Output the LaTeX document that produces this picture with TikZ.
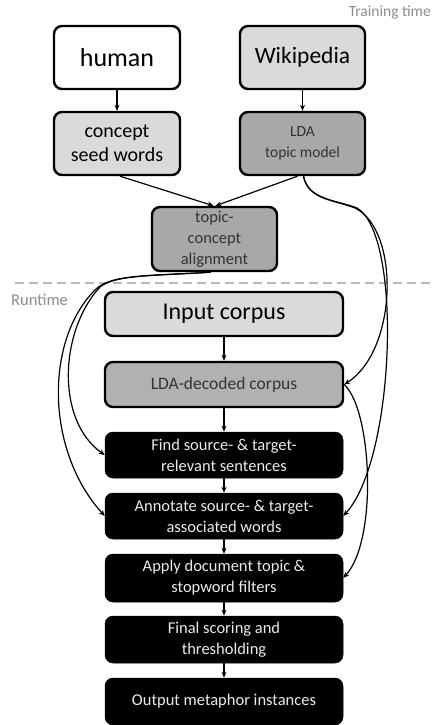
\documentclass[tikz,border=0pt]{standalone}
\usepackage{fontspec}
\setmainfont{Carlito}
\usetikzlibrary{arrows.meta}
\definecolor{lgray}{HTML}{DADADA}
\definecolor{mgray}{HTML}{A8A8A8}
\definecolor{dgtext}{HTML}{333333}
\definecolor{labgray}{HTML}{8C8C8C}
\begin{document}
\begin{tikzpicture}[x=1pt,y=-1pt,
  box/.style={draw=black, line width=2.4pt, rounded corners=8pt, align=center, inner sep=1pt},
  blk/.style={fill=black, draw=black, line width=0.5pt, rounded corners=8pt, minimum width=238pt,
              text=white!92!black, align=center, inner sep=1pt, font=\fontsize{16.5}{21}\selectfont},
  arr/.style={line width=1.2pt, -{Stealth[length=6pt,width=5pt]}},
  lab/.style={text=labgray, inner sep=0pt}
]
\useasboundingbox (0,0) rectangle (434,725);

% labels
\node[lab, anchor=east, font=\fontsize{15.5}{17}\selectfont] (train) at (431,12) {Training time};
\node[lab, anchor=west, font=\fontsize{16.5}{18}\selectfont] (run) at (11,300) {Runtime};
\draw[gray!55, line width=2.5pt, dash pattern=on 9pt off 5pt] (15,283) coordinate (d1) -- (434,283) coordinate (d2);

% training boxes
\node[box, fill=white, minimum width=126pt, minimum height=63pt, font=\fontsize{26}{30}\selectfont] (human) at (117,57.5) {human};
\node[box, fill=lgray, minimum width=125pt, minimum height=63pt, font=\fontsize{23.5}{28}\selectfont] (wiki) at (302.5,57.5) {Wikipedia};
\node[box, fill=lgray, minimum width=126pt, minimum height=63pt, font=\fontsize{20}{24}\selectfont] (concept) at (117,143.5) {concept\\seed words};
\node[box, fill=mgray, text=dgtext, minimum width=125pt, minimum height=63pt, font=\fontsize{15.5}{21}\selectfont] (lda) at (302.5,143.5) {LDA\\topic model};
\node[box, fill=mgray, text=dgtext, minimum width=125pt, minimum height=64pt, font=\fontsize{16.5}{21}\selectfont] (topic) at (214.5,239) {topic-\\concept\\alignment};

% runtime boxes
\node[box, fill=lgray, minimum width=238pt, minimum height=44pt, font=\fontsize{24}{28}\selectfont] (input) at (224,314) {Input corpus};
\node[box, fill=mgray!90, text=dgtext, minimum width=238pt, minimum height=45pt, font=\fontsize{17.5}{21}\selectfont] (decoded) at (224,384.5) {LDA-decoded corpus};
\node[blk, minimum height=46pt] (find) at (224,455) {Find source- \& target-\\relevant sentences};
\node[blk, minimum height=46pt] (annot) at (224,516) {Annotate source- \& target-\\associated words};
\node[blk, minimum height=48pt] (apply) at (224,578) {Apply document topic \&\\stopword filters};
\node[blk, minimum height=47pt] (final) at (224,639.5) {Final scoring and\\thresholding};
\node[blk, minimum height=47pt] (output) at (224,701.5) {Output metaphor instances};

% straight arrows
\draw[arr] (human) -- (concept);
\draw[arr] (wiki) -- (lda);
\draw[arr] ([xshift=3pt]concept.south) -- ([xshift=-1pt]topic.north);
\draw[arr] ([xshift=-5pt]lda.south) -- ([xshift=1pt]topic.north);
\draw[arr] (input) -- (decoded);
\draw[arr] (decoded) -- (find);
\draw[arr] (find) -- (annot);
\draw[arr] (annot) -- (apply);
\draw[arr] (apply) -- (final);
\draw[arr] (final) -- (output);

% right curves
\draw[arr] ([xshift=1pt]lda.south) .. controls (308,200) and (335,200) .. (355,208)
  .. controls (400,230) and (398,350) .. (decoded.east);
\draw[arr] ([xshift=1pt]lda.south) .. controls (308,200) and (337,200) .. (357,208)
  .. controls (403,235) and (395,460) .. (annot.east);
\draw[arr] (decoded.east) .. controls (372,410) and (378,540) .. (apply.east);

% left curves
\draw[arr] ([xshift=-4pt]topic.south) .. controls (150,276) and (110,274) .. (95,290)
  .. controls (45,340) and (45,450) .. (annot.west);
\draw[arr] ([xshift=-4pt]topic.south) .. controls (150,276) and (115,275) .. (100,287)
  .. controls (60,330) and (55,420) .. (find.west);
\end{tikzpicture}
\end{document}
